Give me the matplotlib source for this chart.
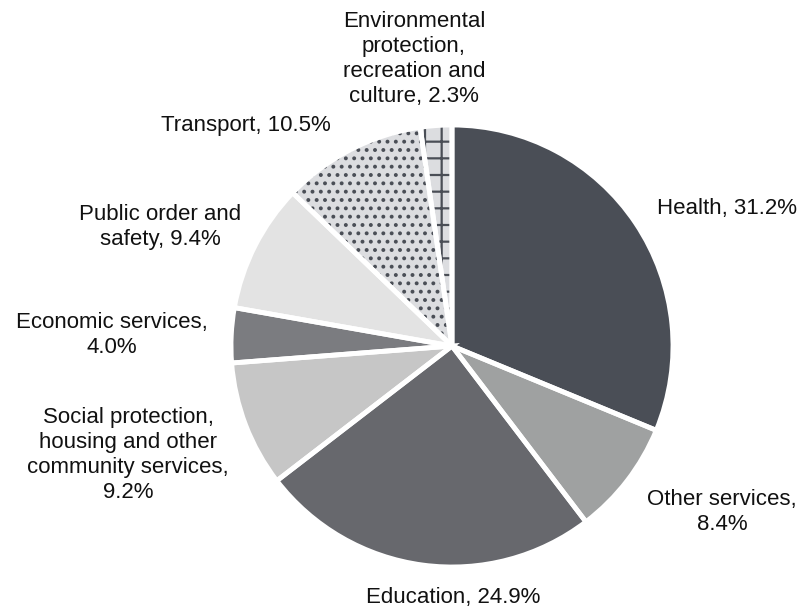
import matplotlib
matplotlib.use("Agg")
from matplotlib import pyplot as plt

# Data
categories = ["Health", "Other services", "Education",
              "Social protection,\nhousing and other\ncommunity services,",
              "Economic services,", "Public order and\nsafety,", "Transport,",
              "Environmental\nprotection,\nrecreation and\nculture,"]
shares = [31.2, 8.4, 24.9, 9.2, 4.0, 9.4, 10.5, 2.3]
label_texts = ["Health, 31.2%", "Other services,\n8.4%", "Education, 24.9%",
               "Social protection,\nhousing and other\ncommunity services,\n9.2%",
               "Economic services,\n4.0%", "Public order and\nsafety, 9.4%",
               "Transport, 10.5%",
               "Environmental\nprotection,\nrecreation and\nculture, 2.3%"]

colors = ["#4a4e56", "#9fa1a1", "#67686d", "#c6c6c6", "#7b7c80",
          "#e3e3e3", "#dcdde0", "#dcdde0"]
hatches = [None, None, None, None, None, None, "..", "+"]

# label placement (data units, radius = 1)
label_pos = [(0.928, 0.624, "left"), (1.222, -0.751, "center"),
             (0.005, -1.136, "center"), (-1.466, -0.493, "center"),
             (-1.538, 0.050, "center"), (-1.321, 0.538, "center"),
             (-0.932, 1.0, "center"), (-0.172, 1.299, "center")]

plt.rcParams["font.family"] = ["Liberation Sans", "DejaVu Sans"]
plt.rcParams["hatch.linewidth"] = 1.6

fig = plt.figure(figsize=(8.03, 6.08), dpi=100)
ax = fig.add_axes([231 / 803, 41 / 608, 442 / 803, 442 / 608])

# fill + hatches
wedges, _ = ax.pie(shares, colors=colors, startangle=90, counterclock=False,
                   wedgeprops=dict(linewidth=0, edgecolor="#4a4e56"))
for w, h in zip(wedges, hatches):
    if h:
        w.set_hatch(h)

# white separators
ax.pie(shares, colors=["none"] * len(shares), startangle=90, counterclock=False,
       wedgeprops=dict(linewidth=3.5, edgecolor="white", fill=False))

for txt, (x, y, ha) in zip(label_texts, label_pos):
    ax.text(x, y, txt, ha=ha, va="center", multialignment="center",
            fontsize=16, color="#111111", linespacing=1.25)

ax.set_xlim(-1, 1)
ax.set_ylim(-1, 1)
ax.set_aspect("equal")
ax.axis("off")

fig.savefig("out.png", dpi=100)
